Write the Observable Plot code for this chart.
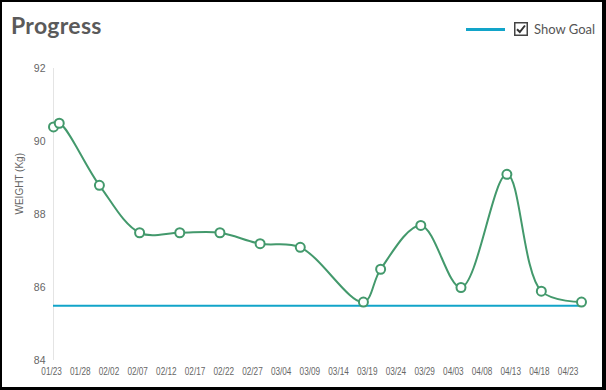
<!DOCTYPE html>
<html><head><meta charset="utf-8">
<script src="https://cdn.jsdelivr.net/npm/d3@7"></script>
<script src="https://cdn.jsdelivr.net/npm/@observablehq/plot@0.6"></script>
<style>
body{margin:0;background:#fff;}
#wrap{position:relative;width:606px;height:390px;overflow:hidden;background:#fff;}
#frame{position:absolute;left:0;top:0;width:606px;height:390px;box-sizing:border-box;border:2px solid #000;border-right-width:4px;border-bottom-width:3px;pointer-events:none;}
#title{position:absolute;left:11px;top:11px;font:bold 23px Lato,"Open Sans",sans-serif;color:#5a5a5a;letter-spacing:0.3px;}
#legend{position:absolute;left:466px;top:20px;height:18px;display:flex;align-items:center;font:13px Lato,"Open Sans",sans-serif;color:#555;}
#legend .line{width:39px;height:3px;background:#12a4c9;margin-right:9px;}
#legend svg{margin-right:6px;}
#chart{position:absolute;left:0;top:45px;}
</style></head>
<body>
<div id="wrap">
  <div id="title">Progress</div>
  <div id="legend"><span class="line"></span><svg width="14" height="14" viewBox="0 0 14 14"><rect x="0.75" y="0.75" width="12.5" height="12.5" fill="#fff" stroke="#444" stroke-width="1.5"/><path d="M3 7.2 L5.8 10 L11 3.5" fill="none" stroke="#333" stroke-width="2"/></svg><span>Show Goal</span></div>
  <div id="chart"></div>
  <div id="frame"></div>
</div>
<script>
const dates = ["2019-01-23","2019-01-24","2019-01-31","2019-02-07","2019-02-14","2019-02-21","2019-02-28","2019-03-07","2019-03-18","2019-03-21","2019-03-28","2019-04-04","2019-04-12","2019-04-18","2019-04-25"];
const weights = [90.4,90.5,88.8,87.5,87.5,87.5,87.2,87.1,85.6,86.5,87.7,86.0,89.1,85.9,85.6];
const goal = 85.5;
const tickDates = ["2019-01-23","2019-01-28","2019-02-02","2019-02-07","2019-02-12","2019-02-17","2019-02-22","2019-02-27","2019-03-04","2019-03-09","2019-03-14","2019-03-19","2019-03-24","2019-03-29","2019-04-03","2019-04-08","2019-04-13","2019-04-18","2019-04-23"];
const tickLabels = ["01/23","01/28","02/02","02/07","02/12","02/17","02/22","02/27","03/04","03/09","03/14","03/19","03/24","03/29","04/03","04/08","04/13","04/18","04/23"];
const yTicks = [84,86,88,90,92];
const yLabel = "WEIGHT (Kg)";

const data = dates.map((d,i)=>({date:new Date(d+"T08:00:00Z"), w:weights[i]}));
const ticks = tickDates.map(d=>new Date(d+"T00:00:00Z"));
const labelOf = new Map(ticks.map((t,i)=>[+t, tickLabels[i]]));

const green = "#43996c";
const chart = Plot.plot({
  width:606, height:345,
  marginTop:23, marginBottom:30, marginLeft:53, marginRight:25,
  style:{fontFamily:"'Liberation Sans', Arial, sans-serif", fontSize:"11px", color:"#666", background:"transparent"},
  x:{type:"utc", domain:[data[0].date, data[data.length-1].date]},
  y:{domain:[84,92]},
  marks:[
    Plot.gridY(yTicks,{stroke:"#e4e4e4", strokeOpacity:1, x1:49, x2:581}),
    Plot.ruleX([data[0].date],{stroke:"#e4e4e4", y1:84, y2:92}),
    Plot.axisY(yTicks,{tickSize:0, tickPadding:8, fill:"#666", fontSize:10.5, label:null}),
    Plot.axisX(ticks,{tickSize:0, tickPadding:7, fill:"#666", fontSize:10, label:null, tickFormat:d=>labelOf.get(+d)}),
    Plot.text([yLabel],{frameAnchor:"left", dx:-34, rotate:-90, fontSize:10, fill:"#666"}),
    Plot.ruleY([goal],{stroke:"#12a4c9", strokeWidth:2}),
    Plot.line(data,{x:"date", y:"w", stroke:green, strokeWidth:2, curve:"catmull-rom"}),
    Plot.dot(data,{x:"date", y:"w", r:4.5, fill:"#fff", stroke:green, strokeWidth:2})
  ]
});
// condense the x tick labels to the narrow width of the original
chart.querySelectorAll('g[aria-label="x-axis tick label"] text').forEach(t=>{
  t.setAttribute("textLength","20.5");
  t.setAttribute("lengthAdjust","spacingAndGlyphs");
});
document.getElementById("chart").appendChild(chart);
</script>
</body></html>
